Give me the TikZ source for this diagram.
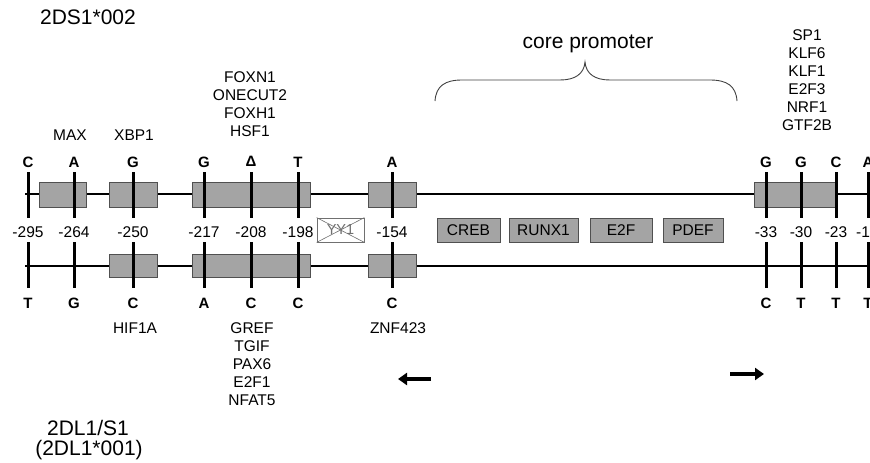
\documentclass[tikz,border=0pt]{standalone}
\usepackage{fontspec}
\setmainfont{Liberation Sans}
\usetikzlibrary{arrows.meta}
\definecolor{boxfill}{HTML}{A4A4A4}
\definecolor{boxline}{HTML}{505050}
\definecolor{crossgray}{HTML}{707070}
\begin{document}
\begin{tikzpicture}[x=1pt,y=-1pt,
  lbl/.style={font=\fontsize{15.5}{18}\selectfont, inner sep=0pt, align=center},
  base/.style={font=\bfseries\fontsize{15}{16}\selectfont, inner sep=0pt},
  big/.style={font=\fontsize{21}{23}\selectfont, inner sep=0pt, align=center},
  gbox/.style={draw=boxline, fill=boxfill, line width=0.8pt},
  mbox/.style={draw=boxline, fill=boxfill, line width=0.8pt, minimum height=24pt, inner sep=0pt, font=\fontsize{15.5}{18}\selectfont},
  strand/.style={line width=2.5pt},
  tickline/.style={line width=3pt},
  bigarrow/.style={line width=3.5pt, -{Triangle[length=9pt,width=12pt]}},
]
\useasboundingbox (0,0) rectangle (870,463);
\clip (0,0) rectangle (870,463);

% titles
\node[big] (t1) at (88,17) {2DS1*002};
\node[big] (t2) at (88,428) {2DL1/S1};
\node[big] (t3) at (89,450) {(2DL1*001)};
\node[big] (cp) at (588,44) {core promoter};

% brace
\draw[line width=0.9pt, black!75] (435,101) .. controls (436,86) and (445,80) .. (462,80)
  -- (560,80) .. controls (575,80) and (584,74) .. (585,62)
  .. controls (586,74) and (595,80) .. (610,80)
  -- (710,80) .. controls (727,80) and (736,86) .. (737,101);

% strands
\coordinate (ts) at (25,194);
\coordinate (te) at (870,194);
\coordinate (bs) at (25,266);
\coordinate (be) at (870,266);
\draw[strand] (ts) -- (te);
\draw[strand] (bs) -- (be);

% top boxes
\draw[gbox] (39,182) rectangle (86,207);
\draw[gbox] (109,182) rectangle (157,207);
\draw[gbox] (192,182) rectangle (310,207);
\draw[gbox] (368,182) rectangle (416,207);
\draw[gbox] (754,182) rectangle (837,207);

% bottom boxes
\draw[gbox] (109,254) rectangle (157,277);
\draw[gbox] (192,254) rectangle (310,277);
\draw[gbox] (368,254) rectangle (416,277);

% ticks
\foreach \x in {28,74,133,204,251,298,392,766,801,836,868}{
  \draw[tickline] (\x,172) -- (\x,218);
  \draw[tickline] (\x,242) -- (\x,288);
}

% top bases
\foreach \x/\b in {28/C,74/A,133/G,204/G,298/T,392/A,766/G,801/G,836/C,868/A}{
  \node[base] at (\x,162) {\b};
}
\node[base] (delta) at (251,161) {Δ};

% bottom bases
\foreach \x/\b in {28/T,74/G,133/C,204/A,251/C,298/C,392/C,766/C,801/T,836/T,868/T}{
  \node[base] at (\x,303) {\b};
}

% positions
\foreach \x/\p in {28/-295,74/-264,133/-250,204/-217,251/-208,298/-198,392/-154,766/-33,801/-30,836/-23}{
  \node[lbl] at (\x,232) {\p};
}
\node[lbl, anchor=west] (p19) at (856,232) {-19};

% middle boxes
\node[draw=crossgray, fill=white, line width=0.8pt, minimum width=47pt, minimum height=24pt, inner sep=0pt,
      font=\fontsize{14.5}{16}\selectfont, text=crossgray] (yy1) at (340.5,230) {YY1};
\draw[crossgray, line width=0.6pt] (yy1.north west) -- (yy1.south east);
\draw[crossgray, line width=0.6pt] (yy1.south west) -- (yy1.north east);
\node[mbox, minimum width=63pt] (creb) at (468.5,230) {CREB};
\node[mbox, minimum width=69pt] (runx) at (543.5,230) {RUNX1};
\node[mbox, minimum width=62pt] (e2f) at (621,230) {E2F};
\node[mbox, minimum width=60pt] (pdef) at (693,230) {PDEF};

% top labels
\node[lbl] (max) at (70,135) {MAX};
\node[lbl] (xbp) at (134,135) {XBP1};
\node[lbl] (fox) at (250,104) {FOXN1\\ONECUT2\\FOXH1\\HSF1};
\node[lbl] (sp1) at (807,80) {SP1\\KLF6\\KLF1\\E2F3\\NRF1\\GTF2B};

% bottom labels
\node[lbl] (hif) at (135,328) {HIF1A};
\node[lbl] (gref) at (252,364) {GREF\\TGIF\\PAX6\\E2F1\\NFAT5};
\node[lbl] (znf) at (398,328) {ZNF423};

% direction arrows
\coordinate (la1) at (431,379);
\coordinate (la2) at (398,379);
\coordinate (ra1) at (730,374);
\coordinate (ra2) at (764,374);
\draw[bigarrow] (la1) -- (la2);
\draw[bigarrow] (ra1) -- (ra2);
\end{tikzpicture}
\end{document}
